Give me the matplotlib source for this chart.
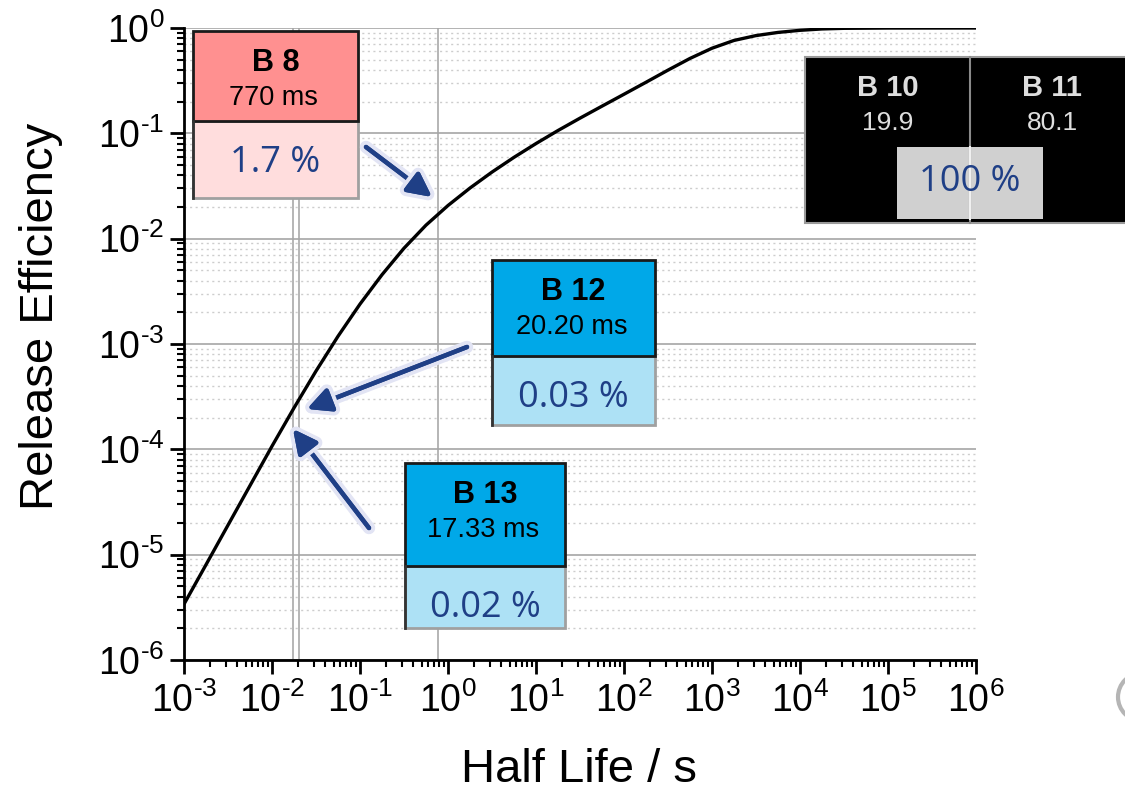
import math

import matplotlib
matplotlib.use("Agg")
from matplotlib import pyplot as plt
from matplotlib.patches import Rectangle, FancyArrowPatch, Ellipse
from matplotlib.ticker import LogLocator, NullFormatter, FuncFormatter
import matplotlib.patheffects as pe

# curve (half life in s, release efficiency)
half_life = [0.001, 0.00178, 0.00316, 0.00562, 0.01, 0.0178, 0.0316, 0.0562, 0.1, 0.178,
             0.316, 0.562, 1.0, 1.78, 3.16, 5.62, 10.0, 17.8, 31.6, 56.2,
             100.0, 178.0, 316.0, 562.0, 1000.0, 1780.0, 3160.0, 5620.0, 10000.0, 17800.0,
             31600.0, 100000.0, 1000000.0]
efficiency = [3.39e-6, 8.04e-6, 1.905e-5, 4.52e-5, 1.072e-4, 2.477e-4, 5.53e-4, 1.183e-3, 2.393e-3, 4.55e-3,
              8.11e-3, 1.343e-2, 2.065e-2, 3.027e-2, 4.285e-2, 5.916e-2, 7.998e-2, 0.1064, 0.1393, 0.1811,
              0.2350, 0.3055, 0.3981, 0.5140, 0.6427, 0.7621, 0.8472, 0.9078, 0.9506, 0.9795,
              0.9931, 0.999, 1.0]

# isotopes marked with vertical lines (half life in s)
marker_times = [0.01733, 0.0202, 0.77]

isotopes = ["B 8", "B 12", "B 13"]
isotope_times = ["770 ms", "20.20 ms", "17.33 ms"]
isotope_eff = ["1.7 %", "0.03 %", "0.02 %"]

stable = ["B 10", "B 11"]
abundance = ["19.9", "80.1"]
stable_eff = "100 %"

W, H = 1125, 791
NAVY = "#1f3f86"


def fx(x):
    return x / W


def fy(y):
    return 1 - y / H


def log_label(v, pos):
    e = int(round(math.log10(v)))
    s = str(e).replace('-', r'\text{-}')
    return r'$\mathdefault{10^{%s}}$' % s


plt.rcParams['font.family'] = ['Liberation Sans', 'DejaVu Sans']
plt.rcParams['mathtext.fontset'] = 'custom'
plt.rcParams['mathtext.rm'] = 'Liberation Sans'
plt.rcParams['mathtext.it'] = 'Liberation Sans:italic'
plt.rcParams['mathtext.bf'] = 'Liberation Sans:bold'

fig = plt.figure(figsize=(11.25, 7.91), dpi=100)
ax = fig.add_axes([fx(184), fy(660), (976 - 184) / W, (660 - 28) / H])
ax.set_xscale('log')
ax.set_yscale('log')
ax.set_xlim(1e-3, 1e6)
ax.set_ylim(1e-6, 1e0)

for a in (ax.xaxis, ax.yaxis):
    a.set_major_locator(LogLocator(base=10, numticks=20))
    a.set_minor_locator(LogLocator(base=10, subs=range(2, 10), numticks=200))
    a.set_major_formatter(FuncFormatter(log_label))
    a.set_minor_formatter(NullFormatter())

ax.yaxis.grid(True, which='major', color='#a6a6a6', lw=1.2)
ax.yaxis.grid(True, which='minor', color='#cdcdcd', lw=1, linestyle=(0, (1.5, 2.5)))
ax.xaxis.grid(False, which='both')

ax.tick_params(which='major', direction='out', length=10, width=2, labelsize=27)
ax.tick_params(which='minor', direction='out', length=5, width=1.5)
ax.tick_params(axis='x', pad=6)
ax.tick_params(axis='y', pad=4)

for s in ('top', 'right'):
    ax.spines[s].set_visible(False)
for s in ('left', 'bottom'):
    ax.spines[s].set_linewidth(2)

for t in marker_times:
    ax.axvline(t, color='#a9a9a9', lw=1.2, zorder=1)

ax.plot(half_life, efficiency, color='k', lw=2.4, solid_joinstyle='round', zorder=5)

fig.text(fx(53), fy(316), 'Release Efficiency', rotation=90, rotation_mode='anchor',
         fontsize=34, ha='center', va='baseline')
fig.text(fx(579), fy(782), 'Half Life / s', fontsize=34, ha='center', va='baseline')


def rect(x0, y0, x1, y1, **kw):
    r = Rectangle((fx(x0), fy(y1)), (x1 - x0) / W, (y1 - y0) / H,
                  transform=fig.transFigure, **kw)
    fig.add_artist(r)
    return r


def isotope_box(box, split, top_color, bottom_color, name, time, eff):
    x0, y0, x1, y1 = box
    rect(x0, split, x1, y1, facecolor=bottom_color, edgecolor='#a0a0a0', lw=2)
    rect(x0, y0, x1, split, facecolor=top_color, edgecolor='#1a1a1a', lw=2)
    fig.add_artist(plt.Line2D([fx(x0), fx(x0)], [fy(split), fy(y1)], color='#333333',
                              lw=2, transform=fig.transFigure))
    xc = (x0 + x1) / 2
    fig.text(fx(xc), fy(y0 + 32), name, fontsize=22, fontweight='bold',
             ha='center', va='center')
    fig.text(fx(xc - 2), fy(y0 + 67), time, fontsize=19.5, ha='center', va='center')
    fig.text(fx(xc), fy(split + 42), eff, fontsize=26, color=NAVY,
             family=['Open Sans', 'DejaVu Sans'], ha='center', va='center')


isotope_box((193, 31, 358, 198), 121, '#ff9090', '#ffdddd', isotopes[0], isotope_times[0], isotope_eff[0])
isotope_box((492, 260, 655, 425), 356, '#00a8e8', '#ade1f5', isotopes[1], isotope_times[1], isotope_eff[1])
isotope_box((405, 463, 565, 628), 566, '#00a8e8', '#ade1f5', isotopes[2], isotope_times[2], isotope_eff[2])

# stable isotopes block
rect(805, 57, 1130, 223, facecolor='black', edgecolor='#9a9a9a', lw=1.5)
fig.add_artist(plt.Line2D([fx(970), fx(970)], [fy(57), fy(223)], color='#8a8a8a',
                          lw=1.5, transform=fig.transFigure))
rect(897, 147, 1043, 219, facecolor='#d0d0d0', edgecolor='none')
fig.add_artist(plt.Line2D([fx(970), fx(970)], [fy(147), fy(219)], color='#f0f0f0',
                          lw=1.5, transform=fig.transFigure))
for xc, name, ab in zip([888, 1052], stable, abundance):
    fig.text(fx(xc), fy(88), name, fontsize=21, fontweight='bold', color='#dedede',
             ha='center', va='center')
    fig.text(fx(xc), fy(123), ab, fontsize=19, color='#dedede', ha='center', va='center')
fig.text(fx(970), fy(182), stable_eff, fontsize=26, color=NAVY,
         family=['Open Sans', 'DejaVu Sans'], ha='center', va='center')

# arrows pointing at the curve
arrows = [((366, 147), (432, 197)), ((467, 347), (307, 409)), ((369, 528), (293, 429))]
for (xa, ya), (xb, yb) in arrows:
    arr = FancyArrowPatch((fx(xa), fy(ya)), (fx(xb), fy(yb)), transform=fig.transFigure,
                          arrowstyle='-|>,head_length=0.9,head_width=0.45', mutation_scale=16,
                          color=NAVY, lw=3.2, shrinkA=0, shrinkB=0)
    arr.set_path_effects([pe.withStroke(linewidth=9, foreground='#e2e4f4'), pe.Normal()])
    fig.add_artist(arr)

fig.add_artist(Ellipse((fx(1142), fy(697)), 48 / W, 48 / H, transform=fig.transFigure,
                       facecolor='none', edgecolor='#b5b5b5', lw=3))

fig.savefig('out.png', dpi=100)
